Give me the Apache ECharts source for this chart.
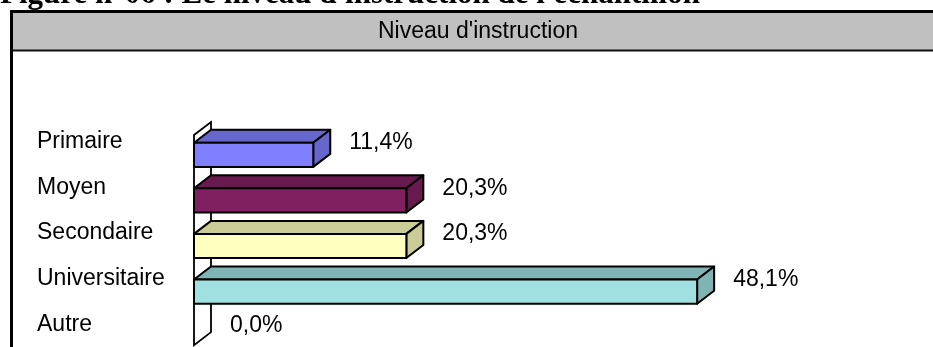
<!DOCTYPE html>
<html>
<head>
<meta charset="utf-8">
<script src="https://cdn.jsdelivr.net/npm/echarts@6/dist/echarts.min.js"></script>
<style>
html,body{margin:0;padding:0;background:#fff;overflow:hidden;width:933px;height:347px;}
#chart{width:933px;height:347px;}
</style>
</head>
<body>
<div id="chart"></div>
<script>
// ---- data ----
const heading = "Figure n°06 : Le niveau d'instruction de l'échantillon";
const chartTitle = "Niveau d'instruction";
const categories = ['Primaire', 'Moyen', 'Secondaire', 'Universitaire', 'Autre'];
const values = [11.4, 20.3, 20.3, 48.1, 0.0];

// ---- styles ----
const frontColors = ['#8080ff', '#802060', '#ffffc0', '#a0e0e0', '#ffffff'];
const shadeColors = ['#6666cc', '#661a4d', '#cccc99', '#80b3b3', '#cccccc'];
const SANS = "'Liberation Sans', Arial, sans-serif";
const DX = 17, DY = -13;

function fmt(v) { return v.toFixed(1).replace('.', ',') + '%'; }

const chart = echarts.init(document.getElementById('chart'), null, {renderer: 'canvas', width: 933, height: 347});

const option = {
  animation: false,
  backgroundColor: '#ffffff',
  title: {
    text: chartTitle,
    left: 478,
    top: 19,
    padding: 0,
    textAlign: 'center',
    textStyle: {fontFamily: SANS, fontSize: 23, fontWeight: 'normal', color: '#000', lineHeight: 25}
  },
  graphic: [
    {type: 'rect', z: 1, shape: {x: 13, y: 13, width: 920, height: 37},
     style: {fill: '#c0c0c0'}},
    {type: 'rect', z: 2, shape: {x: 10, y: 10, width: 923, height: 3},
     style: {fill: '#000'}},
    {type: 'rect', z: 2, shape: {x: 10, y: 10, width: 3, height: 337},
     style: {fill: '#000'}},
    {type: 'rect', z: 2, shape: {x: 13, y: 49.5, width: 920, height: 2},
     style: {fill: '#111'}},
    {type: 'text', z: 3, x: 0, y: -5,
     style: {text: heading, font: "bold 31px 'Liberation Serif', 'Times New Roman', serif",
             fill: '#000', verticalAlign: 'middle', align: 'left'}}
  ],
  grid: {left: 194, top: 119, height: 228, width: 627.6, containLabel: false},
  xAxis: {type: 'value', min: 0, max: 60, show: false},
  yAxis: {
    type: 'category',
    inverse: true,
    data: categories,
    axisLine: {show: false},
    axisTick: {show: false},
    splitLine: {show: false},
    axisLabel: {align: 'left', margin: 157, fontFamily: SANS, fontSize: 23, color: '#000'}
  },
  series: [
    {
      type: 'custom',
      name: 'wall',
      z: 1,
      data: [[0, 0]],
      renderItem: function (params, api) {
        const band = api.size([0, 1])[1];
        const top = api.coord([0, 0]);
        const bot = api.coord([0, categories.length - 1]);
        const x = top[0];
        const y1 = top[1] - 0.15 * band;
        const y2 = bot[1] + 0.46 * band;
        return {
          type: 'polygon',
          shape: {points: [[x, y1], [x + DX, y1 + DY], [x + DX, y2 + DY], [x, y2]]},
          style: {fill: '#fff', stroke: '#000', lineWidth: 1.8}
        };
      }
    },
    {
      type: 'custom',
      name: 'bars',
      z: 2,
      data: values.map(function (v, i) { return [v, i]; }),
      encode: {x: 0, y: 1},
      renderItem: function (params, api) {
        const v = api.value(0);
        const idx = api.value(1);
        const p0 = api.coord([0, idx]);
        const p1 = api.coord([v, idx]);
        const band = api.size([0, 1])[1];
        const yT = p0[1] + 0.02 * band;
        const yB = p0[1] + 0.55 * band;
        const x0 = p0[0], x1 = p1[0];
        const children = [];
        if (v > 0) {
          const st = {stroke: '#000', lineWidth: 2, lineJoin: 'round'};
          children.push({
            type: 'polygon',
            shape: {points: [[x0, yT], [x0 + DX, yT + DY], [x1 + DX, yT + DY], [x1, yT]]},
            style: Object.assign({fill: shadeColors[idx]}, st)
          });
          children.push({
            type: 'polygon',
            shape: {points: [[x1, yT], [x1 + DX, yT + DY], [x1 + DX, yB + DY], [x1, yB]]},
            style: Object.assign({fill: shadeColors[idx]}, st)
          });
          children.push({
            type: 'rect',
            shape: {x: x0, y: yT, width: x1 - x0, height: yB - yT},
            style: Object.assign({fill: frontColors[idx]}, st)
          });
        }
        children.push({
          type: 'text',
          x: x1 + DX + 19,
          y: p0[1] + 1,
          style: {text: fmt(v), font: "23px 'Liberation Sans', Arial, sans-serif",
                  fill: '#000', verticalAlign: 'middle', align: 'left'}
        });
        return {type: 'group', children: children};
      }
    }
  ]
};
chart.setOption(option);
</script>
</body>
</html>
